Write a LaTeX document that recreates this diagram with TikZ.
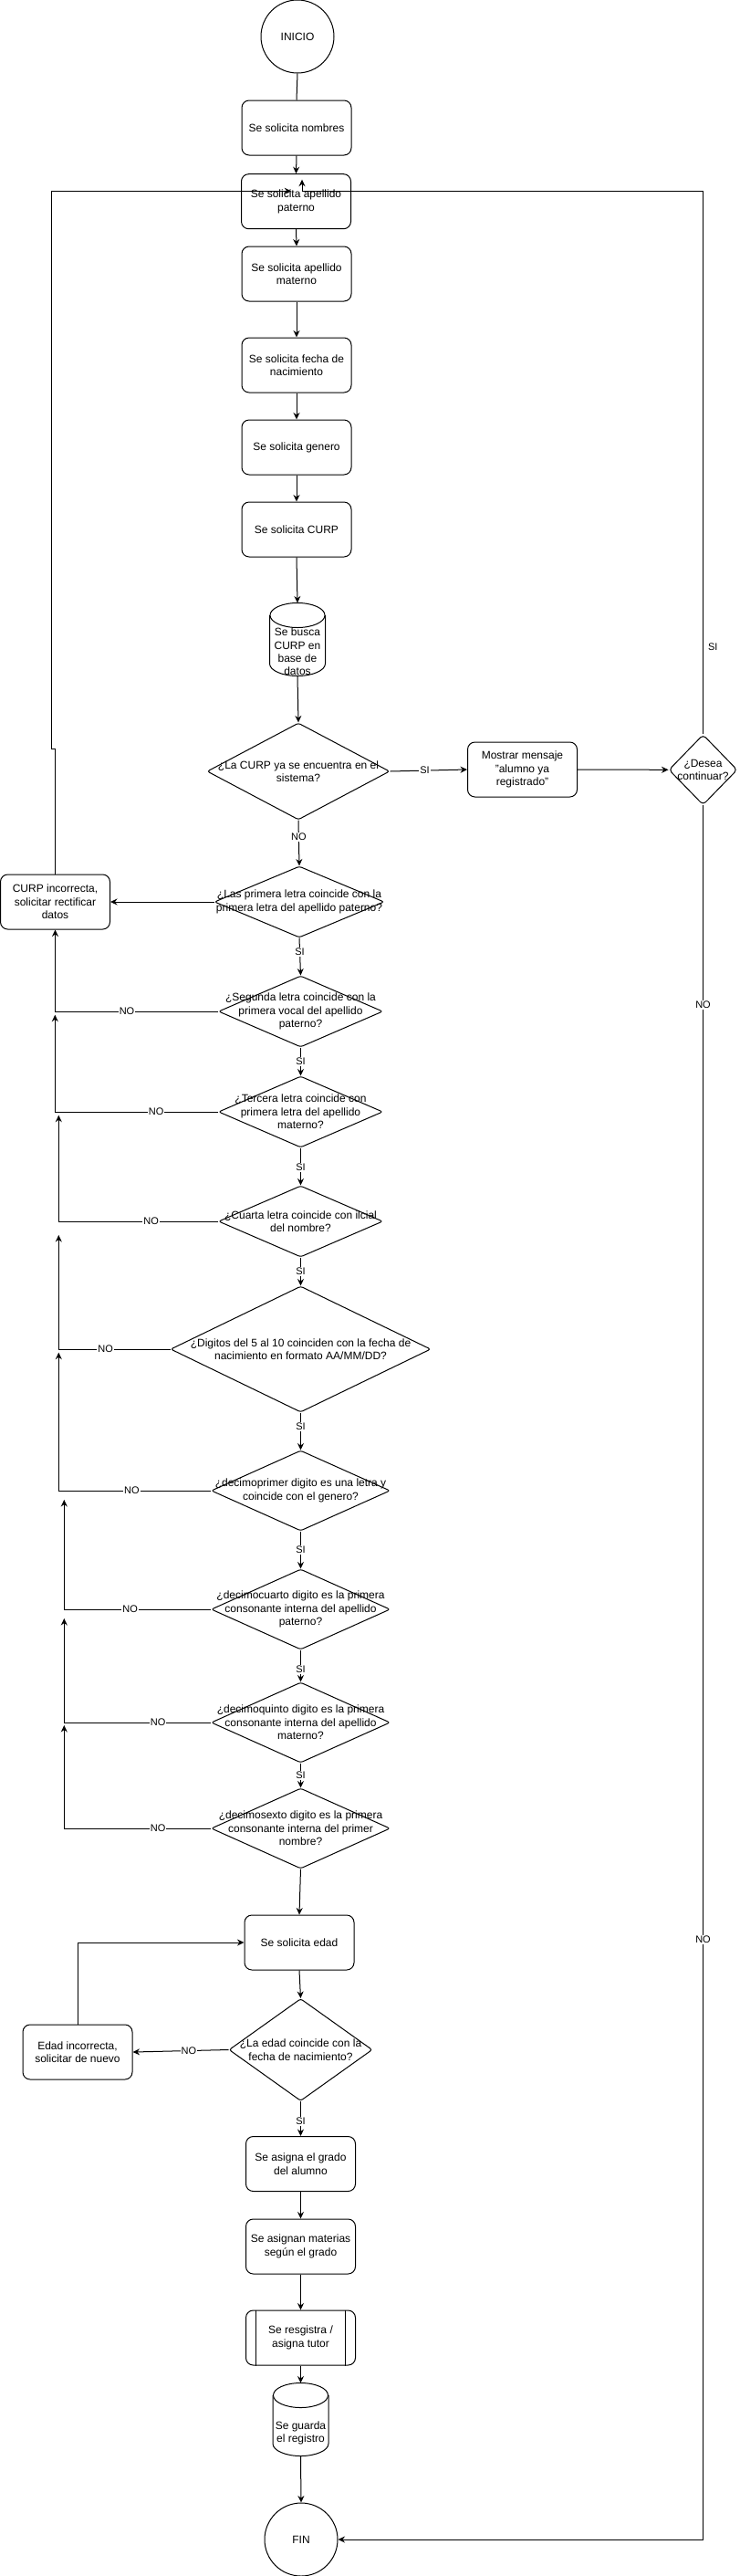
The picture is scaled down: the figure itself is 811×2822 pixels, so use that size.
\documentclass[tikz,border=0pt]{standalone}
\usepackage{fontspec}
\setmainfont{Liberation Sans}
\usetikzlibrary{shapes.geometric,arrows.meta,calc}
\begin{document}
\begin{tikzpicture}[x=1pt,y=-1pt, line width=1pt,
  box/.style={draw, fill=white, rounded corners=8pt, minimum width=120pt, minimum height=60pt, inner sep=0pt, align=center, font=\fontsize{12}{14.4}\selectfont},
  dec/.style={draw, fill=white, diamond, rounded corners=2.5pt, inner sep=0pt},
  dtext/.style={align=center, font=\fontsize{12}{14.4}\selectfont, inner sep=0pt},
  circ/.style={draw, fill=white, circle, minimum size=80pt, inner sep=0pt, font=\fontsize{12}{14.4}\selectfont},
  cylbox/.style={minimum width=60pt, minimum height=79pt, inner sep=0pt},
  arr/.style={-{Stealth[length=7.5pt,width=7pt,inset=2.5pt]}},
  lbl/.style={fill=white, inner sep=1pt, font=\fontsize{11}{13.2}\selectfont},
]
\useasboundingbox (0,0) rectangle (811,2822);
\fill[white] (0,0) rectangle (811,2822);

% ---------- nodes ----------
\node[circ] (inicio) at (326,40) {INICIO};
\node[box] (nombres) at (325,140) {Se solicita nombres};
\node[box] (paterno) at (324.5,220.7) {Se solicita apellido\\paterno};
\node[box] (materno) at (325,300) {Se solicita apellido\\materno};
\node[box] (fecha) at (325,400) {Se solicita fecha de\\nacimiento};
\node[box] (genero) at (325,490) {Se solicita genero};
\node[box] (curp) at (325,580) {Se solicita CURP};

% cylinder 1
\node[cylbox] (cyl1) at (326,700.5) {};
\draw[fill=white] ($(cyl1.north west)+(0,13.5)$) -- ($(cyl1.south west)+(0,-13.5)$)
  .. controls +(0,7.46) and +(-16.57,0) .. (cyl1.south)
  .. controls +(16.57,0) and +(0,7.46) .. ($(cyl1.south east)+(0,-13.5)$)
  -- ($(cyl1.north east)+(0,13.5)$);
\draw[fill=white] ($(cyl1.north)+(0,13.5)$) ellipse [x radius=30pt, y radius=13.5pt];
\node[dtext] (cyl1t) at ($(cyl1.center)+(0,13.5)$) {Se busca\\CURP en\\base de\\datos};

\node[dec, minimum width=200pt, minimum height=106pt] (d1) at (327,845) {};
\node[dtext] (d1t) at (d1.center) {¿La CURP ya se encuentra en el\\sistema?};

\node[box] (mostrar) at (572.5,843) {Mostrar mensaje\\"alumno ya\\registrado"};

\node[dec, rounded corners=4pt, minimum width=75pt, minimum height=77pt] (desea) at (770.5,843.3) {};
\node[dtext] (deseat) at (desea.center) {¿Desea\\continuar?};

\node[box] (curpinc) at (60.5,988) {CURP incorrecta,\\solicitar rectificar\\datos};

\node[dec, minimum width=186pt, minimum height=78pt] (d2) at (328,988) {};
\node[dtext] (d2t) at (d2.center) {¿Las primera letra coincide con la\\primera letra del apellido paterno?};

\node[dec, minimum width=180pt, minimum height=78pt] (d3) at (329.5,1108) {};
\node[dtext] (d3t) at (d3.center) {¿Segunda letra coincide con la\\primera vocal del apellido\\paterno?};

\node[dec, minimum width=180pt, minimum height=78pt] (d4) at (329.5,1218) {};
\node[dtext] (d4t) at (d4.center) {¿Tercera letra coincide con\\primera letra del apellido\\materno?};

\node[dec, minimum width=180pt, minimum height=78pt] (d5) at (329.5,1338) {};
\node[dtext] (d5t) at (d5.center) {¿Cuarta letra coincide con ilcial\\del nombre?};

\node[dec, minimum width=285pt, minimum height=138pt] (d6) at (329.5,1478) {};
\node[dtext] (d6t) at (d6.center) {¿Digitos del 5 al 10 coinciden con la fecha de\\nacimiento en formato AA/MM/DD?};

\node[dec, minimum width=196pt, minimum height=88pt] (d7) at (329.5,1633) {};
\node[dtext] (d7t) at (d7.center) {¿decimoprimer digito es una letra y\\coincide con el genero?};

\node[dec, minimum width=196pt, minimum height=88pt] (d8) at (329.5,1763) {};
\node[dtext] (d8t) at (d8.center) {¿decimocuarto digito es la primera\\consonante interna del apellido\\paterno?};

\node[dec, minimum width=196pt, minimum height=88pt] (d9) at (329.5,1887) {};
\node[dtext] (d9t) at (d9.center) {¿decimoquinto digito es la primera\\consonante interna del apellido\\materno?};

\node[dec, minimum width=196pt, minimum height=88pt] (d10) at (329.5,2003) {};
\node[dtext] (d10t) at (d10.center) {¿decimosexto digito es la primera\\consonante interna del primer\\nombre?};

\node[box] (edad) at (328,2128) {Se solicita edad};

\node[dec, minimum width=157pt, minimum height=112pt] (d11) at (329.5,2245.5) {};
\node[dtext] (d11t) at (d11.center) {¿La edad coincide con la\\fecha de nacimiento?};

\node[box] (edadinc) at (85,2248) {Edad incorrecta,\\solicitar de nuevo};

\node[box] (asigna) at (329.5,2370.5) {Se asigna el grado\\del alumno};
\node[box] (materias) at (329.5,2461) {Se asignan materias\\según el grado};
\node[box] (tutor) at (329.5,2561) {Se resgistra /\\asigna tutor};
\draw ($(tutor.north west)+(11.5,0)$) -- ($(tutor.south west)+(11.5,0)$);
\draw ($(tutor.north east)+(-11.5,0)$) -- ($(tutor.south east)+(-11.5,0)$);

% cylinder 2
\node[cylbox] (cyl2) at (329.5,2650.5) {};
\draw[fill=white] ($(cyl2.north west)+(0,13.5)$) -- ($(cyl2.south west)+(0,-13.5)$)
  .. controls +(0,7.46) and +(-16.57,0) .. (cyl2.south)
  .. controls +(16.57,0) and +(0,7.46) .. ($(cyl2.south east)+(0,-13.5)$)
  -- ($(cyl2.north east)+(0,13.5)$);
\draw[fill=white] ($(cyl2.north)+(0,13.5)$) ellipse [x radius=30pt, y radius=13.5pt];
\node[dtext] (cyl2t) at ($(cyl2.center)+(0,15)$) {Se guarda\\el registro};

\node[circ] (fin) at (330,2782) {FIN};

% ---------- coordinates ----------
\coordinate (ltip) at (319.3,209.3);
\coordinate (lc1) at (60.5,820);
\coordinate (lc2) at (56,820);
\coordinate (lc3) at (56,209.3);
\coordinate (rtip) at (331,196.7);
\coordinate (rc) at (331,209.3);
\coordinate (t4) at (60.3,1111.7);
\coordinate (t5) at (64.3,1221.7);
\coordinate (t6) at (64.3,1353);
\coordinate (t7) at (64.3,1481.7);
\coordinate (t8) at (70.3,1643);
\coordinate (t9) at (70.3,1773);
\coordinate (t10) at (70.3,1890);

% ---------- connectors ----------
\draw (inicio.south) -- (nombres.north);
\draw[arr] (nombres.south) -- (paterno.north);
\draw[arr] (paterno.south) -- (materno.north);
\draw[arr] (materno.south) -- (fecha.north);
\draw[arr] (fecha.south) -- (genero.north);
\draw[arr] (genero.south) -- (curp.north);
\draw[arr] (curp.south) -- (cyl1.north);
\draw[arr] (cyl1.south) -- (d1.north);
\draw[arr] (d1.south) -- node[lbl,pos=0.37]{NO} (d2.north);
\draw[arr] (d1.east) -- node[lbl,pos=0.45]{SI} (mostrar.west);
\draw[arr] (mostrar.east) -- (desea.west);
\draw[arr] (desea.north) |- node[pos=0.08, anchor=west, xshift=5pt, inner sep=0pt, font=\fontsize{11}{13.2}\selectfont]{SI} (rc) -- (rtip);
\draw[arr] (desea.south) |- node[lbl,pos=0.0576]{NO} node[lbl,pos=0.327]{NO} (fin.east);
\draw[arr] (curpinc.north) -- (lc1) -- (lc2) -- (lc3) -- (ltip);
\draw[arr] (d2.west) -- (curpinc.east);

\draw[arr] (d2.south) -- node[lbl,pos=0.38]{SI} (d3.north);
\draw[arr] (d3.south) -- node[lbl,pos=0.5]{SI} (d4.north);
\draw[arr] (d4.south) -- node[lbl,pos=0.52]{SI} (d5.north);
\draw[arr] (d5.south) -- node[lbl,pos=0.5]{SI} (d6.north);
\draw[arr] (d6.south) -- node[lbl,pos=0.38]{SI} (d7.north);
\draw[arr] (d7.south) -- node[lbl,pos=0.5]{SI} (d8.north);
\draw[arr] (d8.south) -- node[lbl,pos=0.61]{SI} (d9.north);
\draw[arr] (d9.south) -- node[lbl,pos=0.5]{SI} (d10.north);

\draw[arr] (d3.west) -| node[lbl,pos=0.28]{NO} (curpinc.south);
\draw[arr] (d4.west) -| node[lbl,pos=0.19]{NO} (t4);
\draw[arr] (d5.west) -| node[lbl,pos=0.21]{NO} (t5);
\draw[arr] (d6.west) -| node[lbl,pos=0.29]{NO} (t6);
\draw[arr] (d7.west) -| node[lbl,pos=0.26]{NO} (t7);
\draw[arr] (d8.west) -| node[lbl,pos=0.275]{NO} (t8);
\draw[arr] (d9.west) -| node[lbl,pos=0.18]{NO} (t9);
\draw[arr] (d10.west) -| node[lbl,pos=0.18]{NO} (t10);

\draw[arr] (d10.south) -- (edad.north);
\draw[arr] (edad.south) -- (d11.north);
\draw[arr] (d11.west) -- node[lbl,pos=0.415]{NO} (edadinc.east);
\draw[arr] (edadinc.north) |- (edad.west);
\draw[arr] (d11.south) -- node[lbl,pos=0.58]{SI} (asigna.north);
\draw[arr] (asigna.south) -- (materias.north);
\draw[arr] (materias.south) -- (tutor.north);
\draw[arr] (tutor.south) -- (cyl2.north);
\draw[arr] (cyl2.south) -- (fin.north);
\end{tikzpicture}
\end{document}
